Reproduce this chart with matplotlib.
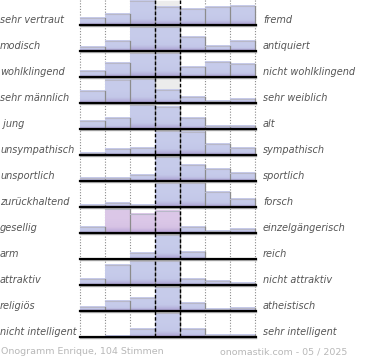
import numpy as np
import matplotlib
matplotlib.use('Agg')
import matplotlib.pyplot as plt
from matplotlib.colors import LinearSegmentedColormap

# word pairs (left / right pole)
left_labels = ['sehr vertraut', 'modisch', 'wohlklingend', 'sehr männlich', ' jung',
               'unsympathisch', 'unsportlich', 'zurückhaltend', 'gesellig', 'arm',
               'attraktiv', 'religiös', 'nicht intelligent']
right_labels = ['fremd', 'antiquiert', 'nicht wohlklingend', 'sehr weiblich', 'alt',
                'sympathisch', 'sportlich', 'forsch', 'einzelgängerisch', 'reich',
                'nicht attraktiv', 'atheistisch', 'sehr intelligent']

# bar heights per row, 7 steps, 100 = full row height
r01 = [29, 42, 96, 75, 63, 71, 79]
r02 = [13, 38, 100, 100, 58, 17, 38]
r03 = [21, 57, 100, 100, 38, 61, 53]
r04 = [47, 92, 100, 54, 24, 5, 15]
r05 = [33, 42, 100, 88, 45, 10, 10]
r06 = [7, 24, 28, 100, 92, 45, 28]
r07 = [10, 10, 21, 100, 63, 49, 33]
r08 = [5, 15, 5, 100, 96, 60, 32]
r09 = [23, 100, 79, 88, 25, 7, 15]
r10 = [0, 0, 24, 100, 28, 0, 0]
r11 = [21, 83, 100, 100, 21, 14, 8]
r12 = [15, 39, 51, 100, 32, 5, 10]
r13 = [0, 2, 32, 96, 32, 5, 5]
rows = [r01, r02, r03, r04, r05, r06, r07, r08, r09, r10, r11, r12, r13]

grey_rows = [0, 3]            # rows with grey backdrop in the middle column
pink_bars = {8: [1, 2, 3]}    # highlighted bars

footer_left = 'Onogramm Enrique, 104 Stimmen'
footer_right = 'onomastik.com - 05 / 2025'

# layout in pixels
x0, cw = 80, 25
base0, pitch, full = 24.5, 26, 24

blue = LinearSegmentedColormap.from_list('b', ['#c7cceb', '#c3c7e8', '#aea4d4'])
pink = LinearSegmentedColormap.from_list('p', ['#dcc8e8', '#d6c2e4', '#b9a4d6'])
grad = (np.linspace(0, 1, 50) ** 3).reshape(-1, 1)

fig = plt.figure(figsize=(3.7, 3.6), dpi=100)
ax = fig.add_axes([0, 0, 1, 1])
ax.axis('off')

ncol = len(r01)
ybottom = base0 + pitch * (len(rows) - 1) + 1.5
for k in range(ncol + 1):
    xx = x0 + k * cw
    if k in (3, 4):
        ax.plot([xx, xx], [0, ybottom], color='black', lw=1, dashes=(2.5, 1.5), zorder=5)
    else:
        ax.plot([xx, xx], [0, ybottom], color='#8a8a8a', lw=0.8, ls=(0, (1, 1.5)), zorder=1)

for i, vals in enumerate(rows):
    base = base0 + i * pitch
    if i in grey_rows:
        ax.fill_between([x0 + 3 * cw, x0 + 4 * cw], base - full, base, color='#ececec', zorder=1.5)
    for j, v in enumerate(vals):
        h = min(v, 100) / 100 * full
        if h <= 0:
            continue
        cm = pink if j in pink_bars.get(i, []) else blue
        l, r = x0 + j * cw, x0 + (j + 1) * cw
        ax.imshow(grad, cmap=cm, extent=[l, r, base, base - h], aspect='auto',
                  interpolation='bilinear', zorder=2)
        ax.plot([l, r], [base - h, base - h], color='#b8b8c8', lw=0.8, zorder=2.5)
        ax.plot([r, r], [base - h, base], color='#8c8c8c', lw=0.9, zorder=2.5)
    ax.plot([x0, x0 + ncol * cw + 1], [base + 1.8, base + 1.8], color='#b0b0b0', lw=1, zorder=3)
    ax.plot([x0, x0 + ncol * cw + 1], [base, base], color='black', lw=1.6, zorder=3.5)
    ax.text(0, base - 4.5, left_labels[i], ha='left', va='center', fontsize=7,
            style='italic', color='#555555')
    ax.text(263, base - 4.5, right_labels[i], ha='left', va='center', fontsize=7,
            style='italic', color='#555555')

ax.text(1, 352, footer_left, ha='left', va='center', fontsize=6.8, color='#b8b8b8')
ax.text(220, 352, footer_right, ha='left', va='center', fontsize=6.8, color='#b8b8b8')

ax.set_xlim(0, 370)
ax.set_ylim(360, 0)
fig.savefig('out.png', dpi=100)
